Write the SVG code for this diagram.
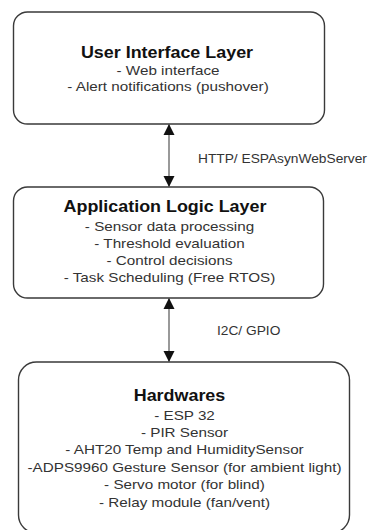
<svg xmlns="http://www.w3.org/2000/svg" width="374" height="530" viewBox="0 0 374 530">
<defs>
<style>
.box{fill:#fff;stroke:#3a3a3a;stroke-width:1.4}
.t{font-family:"Liberation Sans",Arial,sans-serif;text-anchor:middle}
.title{font-size:16px;font-weight:bold;fill:#111}
.body{font-size:12px;fill:#333}
.lbl{font-family:"Liberation Sans",Arial,sans-serif;font-size:12.5px;fill:#333}
.conn{stroke:#999;stroke-width:2;fill:none}
</style>
<marker id="ah" viewBox="0 0 10 12" refX="11" refY="6" markerWidth="10" markerHeight="12" markerUnits="userSpaceOnUse" orient="auto-start-reverse">
<path d="M0,0.5 L11,6 L0,11.5 Z" fill="#111"/>
</marker>
</defs>
<rect width="374" height="530" fill="#fff"/>
<g id="connectors">
<line class="conn" x1="169" y1="124" x2="169" y2="187" marker-start="url(#ah)" marker-end="url(#ah)"/>
<line class="conn" x1="169" y1="298" x2="169" y2="362" marker-start="url(#ah)" marker-end="url(#ah)"/>
<g transform="translate(198 163) scale(1.1 1)"><text class="lbl" x="0" y="0">HTTP/ ESPAsynWebServer</text></g>
<g transform="translate(217 335) scale(1.1 1)"><text class="lbl" x="0" y="0">I2C/ GPIO</text></g>
</g>
<g id="ui-layer">
<rect class="box" x="13.5" y="12" width="311" height="112" rx="14"/>
<g transform="translate(167 0) scale(1.12 1)"><text class="t title" x="0" y="58">User Interface Layer</text></g>
<g transform="translate(168 0) scale(1.27 1)">
<text class="t body" x="0" y="75">- Web interface</text>
<text class="t body" x="0" y="91.5">- Alert notifications (pushover)</text>
</g>
</g>
<g id="app-layer">
<rect class="box" x="13.5" y="187" width="310" height="111" rx="14"/>
<g transform="translate(165 0) scale(1.12 1)"><text class="t title" x="0" y="212">Application Logic Layer</text></g>
<g transform="translate(169.5 0) scale(1.27 1)">
<text class="t body" x="0" y="231">- Sensor data processing</text>
<text class="t body" x="0" y="248">- Threshold evaluation</text>
<text class="t body" x="0" y="265">- Control decisions</text>
<text class="t body" x="0" y="282">- Task Scheduling (Free RTOS)</text>
</g>
</g>
<g id="hardware">
<rect class="box" x="18.5" y="362" width="331" height="171" rx="18"/>
<g transform="translate(179.5 0) scale(1.12 1)"><text class="t title" x="0" y="401.5">Hardwares</text></g>
<g transform="translate(184.5 0) scale(1.27 1)">
<text class="t body" x="0" y="420">- ESP 32</text>
<text class="t body" x="0" y="437">- PIR Sensor</text>
<text class="t body" x="0" y="454.5">- AHT20 Temp and HumiditySensor</text>
<text class="t body" x="0" y="472">-ADPS9960 Gesture Sensor (for ambient light)</text>
<text class="t body" x="0" y="489.5">- Servo motor (for blind)</text>
<text class="t body" x="0" y="507">- Relay module (fan/vent)</text>
</g>
</g>
</svg>
